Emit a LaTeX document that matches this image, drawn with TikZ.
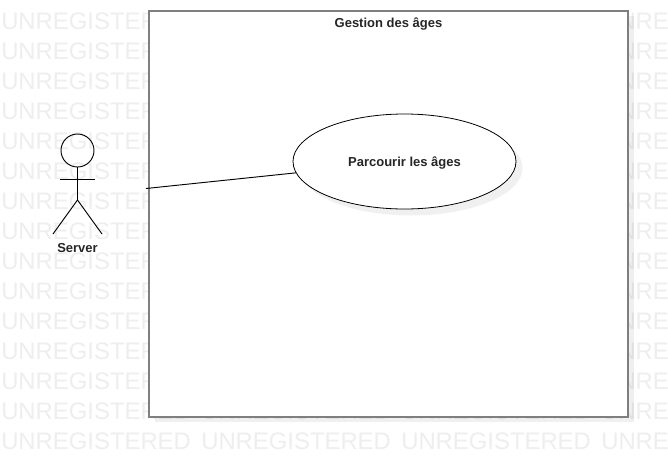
\documentclass[tikz,border=0pt]{standalone}
\usepackage{fontspec}
\setmainfont{Liberation Sans}
\usetikzlibrary{shapes.geometric}
\definecolor{markcolor}{HTML}{EEEEEE}
\definecolor{framecolor}{HTML}{7F7F7F}
\tikzset{
  watermark/.style={anchor=west, inner sep=0pt, text=markcolor, font=\fontsize{17.9pt}{17.9pt}\selectfont},
  label/.style={inner sep=0pt, font=\bfseries\fontsize{9.75pt}{11pt}\selectfont, text=black!85},
  usecase/.style={ellipse, draw=black, fill=white, line width=0.6pt, minimum width=167.25pt, minimum height=71.25pt, inner sep=0pt, text depth=0pt},
  stick/.style={draw=black, line width=0.7pt},
  softshadow/.style={fill=black, fill opacity=0.06, draw=none},
}
\begin{document}
\begin{tikzpicture}[x=0.75pt, y=-0.75pt]
\clip (0,0) rectangle (668,457);
\fill[white] (0,0) rectangle (668,457);
% BACKGROUND TEXT
\foreach \row in {0,...,14} {
  \foreach \col in {0,...,3} {
    \node[watermark] (mark\row\col) at (1+200*\col, 21.5+30*\row) {UNREGISTERED};
  }
}
% SYSTEM BOX
\fill[softshadow] (155,16) rectangle +(479,406);
\draw[draw=framecolor, fill=white, line width=1.5pt] (149,10.5) rectangle (628,416.5);
\node[label] (systemlabel) at (388.5,24) {Gestion des âges};
% USE CASE
\fill[softshadow] (411,168) ellipse (111.5 and 47.5);
\node[usecase, label] (parcourir) at (404.5,161.5) {Parcourir les âges};
% ACTOR
\node[circle, stick, fill=none, minimum size=24.75pt, inner sep=0pt] (serverhead) at (77.5,150.5) {};
\coordinate (serverhip) at (77.5,200);
\coordinate (serverarml) at (60,179.5);
\coordinate (serverarmr) at (95,179.5);
\coordinate (serverlegl) at (53,234);
\coordinate (serverlegr) at (102,234);
\draw[stick] (serverhead) -- (serverhip);
\draw[stick] (serverarml) -- (serverarmr);
\draw[stick] (serverlegl) -- (serverhip) -- (serverlegr);
\node[label] (serverlabel) at (77.5,248.5) {Server};
% CONNECTOR
\coordinate (serverend) at (146,188.5);
\draw[stick] (serverend) -- (parcourir);
\end{tikzpicture}
\end{document}
